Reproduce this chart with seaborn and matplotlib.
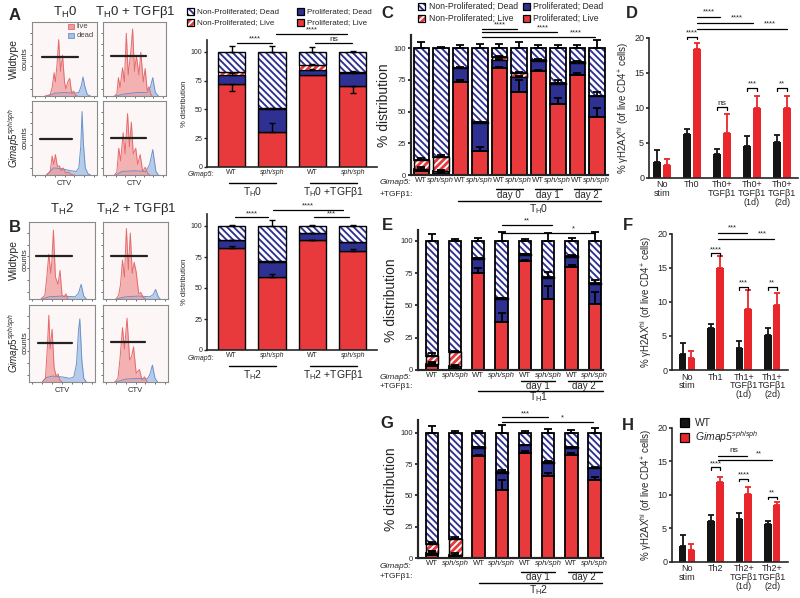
import numpy as np
import pandas as pd
import matplotlib
matplotlib.use('Agg')
import matplotlib.pyplot as plt
import matplotlib.transforms as mtrans
from matplotlib.patches import Rectangle
import seaborn as sns

# ---------------- data ----------------
# flow histograms (CTV), knots: x = fraction of axis, y = fraction of height
a1_live_x = [0.20, 0.28, 0.31, 0.34, 0.36, 0.385, 0.41, 0.44, 0.47, 0.50, 0.52, 0.55, 0.58, 0.61, 0.64, 0.67, 0.70]
a1_live_y = [0, 0.02, 0.12, 0.33, 0.20, 0.45, 0.80, 0.35, 0.58, 0.20, 0.10, 0.20, 0.25, 0.04, 0.07, 0.01, 0]
a1_dead_x = [0.25, 0.35, 0.50, 0.65, 0.72, 0.76, 0.785, 0.81, 0.85, 0.90]
a1_dead_y = [0, 0.04, 0.05, 0.04, 0.05, 0.15, 0.27, 0.15, 0.02, 0]
a1_gate = [0.16, 0.70, 0.56]

a2_live_x = [0.18, 0.22, 0.245, 0.27, 0.31, 0.34, 0.37, 0.40, 0.44, 0.47, 0.50, 0.53, 0.57, 0.60, 0.64, 0.67, 0.70, 0.73, 0.76, 0.78]
a2_live_y = [0, 0.03, 0.26, 0.12, 0.40, 0.20, 0.89, 0.30, 0.62, 0.95, 0.35, 0.57, 0.30, 0.62, 0.20, 0.39, 0.08, 0.13, 0.02, 0]
a2_dead_x = [0.20, 0.35, 0.55, 0.70, 0.75, 0.79, 0.83, 0.88]
a2_dead_y = [0, 0.03, 0.05, 0.05, 0.12, 0.26, 0.05, 0]
a2_gate = [0.12, 0.68, 0.57]

a3_live_x = [0.22, 0.28, 0.31, 0.335, 0.36, 0.39, 0.42, 0.45, 0.48, 0.52, 0.56, 0.60, 0.65]
a3_live_y = [0, 0.05, 0.27, 0.15, 0.29, 0.12, 0.13, 0.06, 0.10, 0.03, 0.04, 0.01, 0]
a3_dead_x = [0.22, 0.28, 0.33, 0.45, 0.60, 0.68, 0.72, 0.75, 0.77, 0.79, 0.82, 0.86, 0.90]
a3_dead_y = [0, 0.05, 0.10, 0.09, 0.06, 0.05, 0.10, 0.40, 0.90, 0.45, 0.10, 0.02, 0]
a3_gate = [0.12, 0.62, 0.51]

a4_live_x = [0.18, 0.22, 0.25, 0.28, 0.32, 0.35, 0.39, 0.42, 0.45, 0.48, 0.52, 0.55, 0.59, 0.63, 0.67, 0.71, 0.74]
a4_live_y = [0, 0.04, 0.38, 0.20, 0.60, 0.30, 0.87, 0.40, 0.75, 0.30, 0.38, 0.15, 0.29, 0.05, 0.11, 0.02, 0]
a4_dead_x = [0.20, 0.30, 0.50, 0.68, 0.74, 0.79, 0.84, 0.88]
a4_dead_y = [0, 0.05, 0.06, 0.05, 0.15, 0.36, 0.05, 0]
a4_gate = [0.12, 0.68, 0.53]

b1_live_x = [0.18, 0.24, 0.27, 0.30, 0.33, 0.345, 0.37, 0.40, 0.44, 0.47, 0.50, 0.53, 0.56, 0.59]
b1_live_y = [0, 0.05, 0.30, 0.61, 0.35, 0.50, 0.94, 0.30, 0.20, 0.39, 0.05, 0.03, 0.07, 0]
b1_dead_x = [0.20, 0.30, 0.50, 0.70, 0.75, 0.79, 0.83, 0.87]
b1_dead_y = [0, 0.03, 0.04, 0.03, 0.08, 0.20, 0.04, 0]
b1_gate = [0.10, 0.65, 0.58]

b2_live_x = [0.20, 0.24, 0.27, 0.30, 0.33, 0.36, 0.39, 0.42, 0.45, 0.48, 0.51, 0.55, 0.58, 0.62, 0.66]
b2_live_y = [0, 0.05, 0.20, 0.53, 0.30, 0.96, 0.40, 0.90, 0.35, 0.50, 0.37, 0.07, 0.09, 0.02, 0]
b2_dead_x = [0.20, 0.35, 0.55, 0.72, 0.77, 0.81, 0.85, 0.88]
b2_dead_y = [0, 0.03, 0.04, 0.03, 0.06, 0.13, 0.03, 0]
b2_gate = [0.12, 0.68, 0.59]

b3_live_x = [0.20, 0.25, 0.28, 0.30, 0.32, 0.35, 0.38, 0.41, 0.44, 0.47, 0.50]
b3_live_y = [0, 0.05, 0.50, 0.91, 0.45, 0.72, 0.20, 0.08, 0.11, 0.02, 0]
b3_dead_x = [0.20, 0.26, 0.35, 0.50, 0.62, 0.68, 0.72, 0.75, 0.77, 0.80, 0.83, 0.87]
b3_dead_y = [0, 0.06, 0.08, 0.07, 0.05, 0.07, 0.25, 0.70, 0.86, 0.30, 0.05, 0]
b3_gate = [0.13, 0.65, 0.53]

b4_live_x = [0.18, 0.23, 0.26, 0.30, 0.33, 0.37, 0.41, 0.44, 0.47, 0.51, 0.56, 0.60, 0.64, 0.68]
b4_live_y = [0, 0.05, 0.30, 0.74, 0.45, 0.87, 0.30, 0.35, 0.48, 0.12, 0.17, 0.03, 0.07, 0]
b4_dead_x = [0.20, 0.35, 0.55, 0.68, 0.72, 0.76, 0.80, 0.84]
b4_dead_y = [0, 0.04, 0.05, 0.04, 0.10, 0.23, 0.05, 0]
b4_gate = [0.12, 0.64, 0.55]

# stacked % distribution: proliferated live / proliferated dead / non-prolif live (rest = non-prolif dead)
genos4 = ['WT', 'sph/sph', 'WT', 'sph/sph']
a_pl = [72, 30, 80, 70]
a_pd = [8, 20, 4.3, 12]
a_nl = [2.5, 1.0, 4.4, 1.0]
a_pl_err = [-6, 8.5, 0, -6]
a_pd_err = [1.5, 1, 1, 1]
a_nl_err = [0, 0, 1, 0.5]
a_top_err = [5, 5.5, 4.6, 1]

b_pl = [82, 59, 88.5, 80]
b_pd = [6.4, 12, 5.5, 7]
b_nl = [0.5, 0.5, 0.5, 0.5]
b_pl_err = [1.6, 2.6, 0.5, 1.5]
b_pd_err = [0.5, 0.5, 0.5, 0.5]
b_nl_err = [0, 0, 0, 0]
b_top_err = [1, 5, 0.5, 1]

genos10 = ['WT', 'sph/sph'] * 5
c_pl = [3, 1, 73, 19, 84, 65, 82, 56, 79, 46]
c_pd = [2, 2, 11, 22, 6.5, 12, 8, 16, 9.5, 16]
c_nl = [7, 11, 0.5, 0.5, 2.5, 3, 0.5, 0.5, 0.5, 0.5]
c_pl_err = [1, 1, 2, 3, 1, 10, 1, 5, 1, 7]
c_pd_err = [1, 1, 1, 1, 1, 1, 1, 3, 1, 3]
c_nl_err = [1.5, 1.5, 0, 0, 0.5, 1, 0, 0, 0, 0]
c_top_err = [5, 1, 2, 3, 3, 5, 2, 2, 2, 6]

genos8 = ['WT', 'sph/sph'] * 4
e_pl = [3, 1, 75, 37, 84, 55, 80, 51]
e_pd = [1.5, 2, 11, 18, 5, 16.5, 7.6, 15.5]
e_nl = [6.5, 11, 0.5, 0.5, 1, 0.5, 0.5, 0.5]
e_pl_err = [3, 1, 4, 7, 1, 10, 1, 9]
e_pd_err = [1, 1, 1, 1, 0.5, 4, 1, 3]
e_nl_err = [2, 1, 0, 0, 0, 0, 0, 0]
e_top_err = [5, 1, 2, 7, 1, 6, 2, 7]

g_pl = [3, 1, 81, 54, 84, 65.5, 82, 62]
g_pd = [1.5, 2, 7, 14, 6, 10.5, 6, 9.6]
g_nl = [6.5, 12, 0.5, 0.5, 0.5, 0.5, 0.5, 0.5]
g_pl_err = [3, 1, 1, 8, 1, 2, 2, 3]
g_pd_err = [1, 1, 0.5, 2, 0.5, 1, 0.5, 1]
g_nl_err = [2, 2, 0, 0, 0, 0, 0, 0]
g_top_err = [5, 1, 1, 6, 1, 3, 2, 4]

# gamma-H2AX hi (% of live CD4+ cells)
d_groups = ['No\nstim', 'Th0', 'Th0+\nTGF\u03b21', 'Th0+\nTGF\u03b21\n(1d)', 'Th0+\nTGF\u03b21\n(2d)']
d_wt = [2.3, 6.2, 3.4, 4.6, 5.1]
d_wt_sd = [1.6, 0.7, 0.7, 1.3, 1.0]
d_sph = [1.8, 18.4, 6.4, 10.0, 9.9]
d_sph_sd = [0.9, 0.8, 2.7, 1.7, 1.7]

f_groups = ['No\nstim', 'Th1', 'Th1+\nTGF\u03b21\n(1d)', 'Th1+\nTGF\u03b21\n(2d)']
f_wt = [2.4, 6.2, 3.3, 5.2]
f_wt_sd = [1.5, 0.5, 0.9, 0.9]
f_sph = [1.8, 15.0, 8.9, 9.6]
f_sph_sd = [1.0, 1.8, 2.8, 1.7]

h_groups = ['No\nstim', 'Th2', 'Th2+\nTGF\u03b21\n(1d)', 'Th2+\nTGF\u03b21\n(2d)']
h_wt = [2.4, 6.1, 6.3, 5.7]
h_wt_sd = [1.6, 0.9, 1.0, 0.4]
h_sph = [1.8, 11.9, 10.1, 8.4]
h_sph_sd = [0.9, 0.8, 1.0, 0.5]

# ---------------- style ----------------
sns.set_theme(style='ticks')
plt.rcParams['font.family'] = ['Liberation Sans', 'DejaVu Sans']
plt.rcParams['mathtext.fontset'] = 'custom'
plt.rcParams['mathtext.rm'] = 'Liberation Sans'
plt.rcParams['mathtext.it'] = 'Liberation Sans:italic'
plt.rcParams['mathtext.bf'] = 'Liberation Sans:bold'
plt.rcParams['hatch.linewidth'] = 1.35

RED = '#e8393c'
NAVY = '#2e3192'
BLACK = '#141414'
BRED = '#e8262b'
LIVE_F, LIVE_E = '#f29a9b', '#e56a6c'
DEAD_F, DEAD_E = '#a5c0e6', '#6a92cc'
HATCH_B = '\\\\\\\\\\'
HATCH_R = '/////'

W, H = 800, 598
fig = plt.figure(figsize=(8, 5.98), dpi=100)


def add_ax(x0, y0, x1, y1):
    return fig.add_axes([x0 / W, 1 - y1 / H, (x1 - x0) / W, (y1 - y0) / H])


def ftext(x, y, s, **kw):
    kw.setdefault('ha', 'center')
    kw.setdefault('va', 'center')
    fig.text(x / W, 1 - y / H, s, **kw)


def fig_rect(x, y, w, h, face, hatch=None, hcol=None):
    if hatch:
        fig.add_artist(Rectangle((x / W, 1 - (y + h) / H), w / W, h / H, transform=fig.transFigure,
                                 facecolor=face, edgecolor=hcol, hatch=hatch, lw=0))
        face = 'none'
    fig.add_artist(Rectangle((x / W, 1 - (y + h) / H), w / W, h / H, transform=fig.transFigure,
                             facecolor=face, edgecolor='black', lw=0.9))


def under_line(ax, x0, x1, ypx, lw=1.0):
    tr = mtrans.blended_transform_factory(ax.transData, fig.transFigure)
    ax.plot([x0, x1], [1 - ypx / H] * 2, color='black', lw=lw, transform=tr, clip_on=False)


def under_text(ax, x, ypx, s, **kw):
    tr = mtrans.blended_transform_factory(ax.transData, fig.transFigure)
    ax.text(x, 1 - ypx / H, s, transform=tr, ha='center', va='center', **kw)


# ---------------- histograms ----------------
def hist_panel(box, lx, ly, dx, dy, gate, bottom=False):
    ax = add_ax(*box)
    ax.set_facecolor('#fcf7f6')
    ax.fill_between(dx, dy, color=DEAD_F, alpha=0.8, lw=0)
    ax.plot(dx, dy, color=DEAD_E, lw=0.7)
    ax.fill_between(lx, ly, color=LIVE_F, alpha=0.75, lw=0)
    ax.plot(lx, ly, color=LIVE_E, lw=0.7)
    ax.plot(gate[:2], [gate[2]] * 2, color='#222222', lw=1.6)
    ax.set_xlim(0, 1)
    ax.set_ylim(0, 1.05)
    ax.set_xticks(np.linspace(0.05, 0.95, 7))
    ax.set_yticks(np.linspace(0.1, 0.9, 6))
    ax.tick_params(length=1.5, width=0.6, labelbottom=False, labelleft=False, colors='#555555')
    for s in ax.spines.values():
        s.set_color('#8a8a8a')
        s.set_linewidth(0.8)
    if bottom:
        ax.set_xlabel('CTV', fontsize=5.5, labelpad=2)
    return ax


ax = hist_panel((32, 22, 97, 96), a1_live_x, a1_live_y, a1_dead_x, a1_dead_y, a1_gate)
ax.add_patch(Rectangle((0.55, 0.9), 0.1, 0.07, transform=ax.transAxes, facecolor=LIVE_F, edgecolor=LIVE_E, lw=0.6))
ax.add_patch(Rectangle((0.55, 0.78), 0.1, 0.07, transform=ax.transAxes, facecolor=DEAD_F, edgecolor=DEAD_E, lw=0.6))
ax.text(0.69, 0.935, 'live', transform=ax.transAxes, fontsize=5.5, va='center', color='#444444')
ax.text(0.69, 0.815, 'dead', transform=ax.transAxes, fontsize=5.5, va='center', color='#444444')
hist_panel((103, 22, 166, 96), a2_live_x, a2_live_y, a2_dead_x, a2_dead_y, a2_gate)
hist_panel((32, 101, 97, 175), a3_live_x, a3_live_y, a3_dead_x, a3_dead_y, a3_gate, bottom=True)
hist_panel((103, 101, 166, 175), a4_live_x, a4_live_y, a4_dead_x, a4_dead_y, a4_gate, bottom=True)

hist_panel((29, 222, 95, 299), b1_live_x, b1_live_y, b1_dead_x, b1_dead_y, b1_gate)
hist_panel((103, 222, 168, 299), b2_live_x, b2_live_y, b2_dead_x, b2_dead_y, b2_gate)
hist_panel((29, 305, 95, 382), b3_live_x, b3_live_y, b3_dead_x, b3_dead_y, b3_gate, bottom=True)
hist_panel((103, 305, 168, 382), b4_live_x, b4_live_y, b4_dead_x, b4_dead_y, b4_gate, bottom=True)

ftext(65, 12, 'T$_\\mathregular{H}$0', fontsize=9.5)
ftext(135, 12, 'T$_\\mathregular{H}$0 + TGF\u03b21', fontsize=9.5)
ftext(62, 209, 'T$_\\mathregular{H}$2', fontsize=9.5)
ftext(136, 209, 'T$_\\mathregular{H}$2 + TGF\u03b21', fontsize=9.5)
for yc in (59, 260):
    ftext(14, yc, 'Wildtype', fontsize=7.5, rotation=90)
    ftext(25, yc, 'counts', fontsize=5.5, rotation=90)
for yc in (138, 343):
    ftext(14, yc, '$\\mathit{Gimap5}^{\\mathit{sph/sph}}$', fontsize=7, rotation=90)
    ftext(25, yc, 'counts', fontsize=5.5, rotation=90)


# ---------------- stacked bars ----------------
def stacked(ax, genos, pl, pd_, nl, pl_e, pd_e, nl_e, top_e, width, lw, cap):
    n = len(pl)
    x = np.arange(n)
    pl, pd_, nl = np.array(pl, float), np.array(pd_, float), np.array(nl, float)
    b2 = pl + pd_
    b3 = b2 + nl
    nd = 100 - b3
    ax.bar(x, pl, width, color=RED, edgecolor='black', lw=lw)
    ax.bar(x, pd_, width, bottom=pl, color=NAVY, edgecolor='black', lw=lw)
    ax.bar(x, nl, width, bottom=b2, color=RED, edgecolor='white', hatch=HATCH_R, lw=0)
    ax.bar(x, nl, width, bottom=b2, fill=False, edgecolor='black', lw=lw * 0.8)
    ax.bar(x, nd, width, bottom=b3, color='white', edgecolor=NAVY, hatch=HATCH_B, lw=0)
    ax.bar(x, nd, width, bottom=b3, fill=False, edgecolor='black', lw=lw)
    for tops, errs in ((pl, pl_e), (b2, pd_e), (b3, nl_e), (np.full(n, 100.0), top_e)):
        errs = np.array(errs, float)
        keep = errs != 0
        lo = np.where(errs < 0, -errs, 0)[keep]
        hi = np.where(errs > 0, errs, 0)[keep]
        ax.errorbar(x[keep], tops[keep], yerr=[lo, hi], fmt='none', ecolor='black',
                    elinewidth=lw, capsize=cap, capthick=lw)
    ax.set_ylim(0, 110)
    ax.set_yticks([0, 25, 50, 75, 100])
    ax.set_xticks(x, genos)
    for t in ax.get_xticklabels():
        if t.get_text() != 'WT':
            t.set_fontstyle('italic')
    sns.despine(ax=ax)
    for s in ('left', 'bottom'):
        ax.spines[s].set_linewidth(lw * 1.2)
    ax.tick_params(axis='x', length=0, pad=1.5)
    ax.tick_params(axis='y', length=2.5, width=lw, pad=1)


def sig(ax, x0, x1, y, label, tx, fs=5.5):
    ax.plot([x0, x1], [y, y], color='black', lw=0.9, clip_on=False)
    ax.text(tx, y + 0.3, label, ha='center', va='bottom', fontsize=fs, clip_on=False)


# A bars
axA = add_ax(207, 40.5, 377, 167)
stacked(axA, genos4, a_pl, a_pd, a_nl, a_pl_err, a_pd_err, a_nl_err, a_top_err, 0.67, 1.0, 2.5)
axA.set_xlim(-0.61, 3.6)
axA.tick_params(axis='x', labelsize=5)
axA.tick_params(axis='y', labelsize=5)
axA.set_ylabel('% distribution', fontsize=5.5, labelpad=2)
sig(axA, 0.14, 1.0, 108, '****', 0.57)
sig(axA, 1.1, 2.86, 116, '****', 1.98)
sig(axA, 2.07, 2.98, 107.5, 'ns', 2.52, fs=6)
ftext(214, 175, 'Gimap5:', fontsize=5, fontstyle='italic', ha='right')
under_line(axA, -0.06, 1.1, 183)
under_line(axA, 1.94, 3.1, 183)
under_text(axA, 0.52, 192, 'T$_\\mathregular{H}$0', fontsize=7.5)
under_text(axA, 2.52, 192, 'T$_\\mathregular{H}$0 +TGF\u03b21', fontsize=7.5)

# B bars
axB = add_ax(207, 213.6, 377, 350)
stacked(axB, genos4, b_pl, b_pd, b_nl, b_pl_err, b_pd_err, b_nl_err, b_top_err, 0.67, 1.0, 2.5)
axB.set_xlim(-0.61, 3.6)
axB.tick_params(axis='x', labelsize=5)
axB.tick_params(axis='y', labelsize=5)
axB.set_ylabel('% distribution', fontsize=5.5, labelpad=2)
sig(axB, 0.09, 0.9, 107, '****', 0.5)
sig(axB, 1.02, 2.77, 113, '****', 1.9)
sig(axB, 2.03, 2.9, 107, '***', 2.47)
ftext(214, 359, 'Gimap5:', fontsize=5, fontstyle='italic', ha='right')
under_line(axB, -0.06, 1.1, 366)
under_line(axB, 1.94, 3.1, 366)
under_text(axB, 0.52, 375, 'T$_\\mathregular{H}$2', fontsize=7.5)
under_text(axB, 2.52, 375, 'T$_\\mathregular{H}$2 +TGF\u03b21', fontsize=7.5)

# legend for A/B
fig_rect(187, 8, 7, 7, 'white', HATCH_B, NAVY)
fig_rect(187, 19, 7, 7, RED, HATCH_R, 'white')
fig_rect(297, 8, 7, 7, NAVY)
fig_rect(297, 19, 7, 7, RED)
ftext(197, 11.5, 'Non-Proliferated; Dead', fontsize=5.8, ha='left')
ftext(197, 22.5, 'Non-Proliferated; Live', fontsize=5.8, ha='left')
ftext(307, 11.5, 'Proliferated; Dead', fontsize=5.8, ha='left')
ftext(307, 22.5, 'Proliferated; Live', fontsize=5.8, ha='left')

# C bars
axC = add_ax(411, 35.3, 608, 175)
stacked(axC, genos10, c_pl, c_pd, c_nl, c_pl_err, c_pd_err, c_nl_err, c_top_err, 0.8, 1.3, 3)
axC.set_xlim(-0.53, 9.57)
axC.tick_params(axis='x', labelsize=5.6)
axC.tick_params(axis='y', labelsize=5.5)
axC.set_ylabel('% distribution', fontsize=10, labelpad=2)
sig(axC, 3.1, 4.9, 115, '****', 4.04)
sig(axC, 3.1, 6.94, 112.4, '****', 6.24)
sig(axC, 3.1, 8.9, 108.9, '****', 7.9)
ftext(380, 183, 'Gimap5:', fontsize=6, fontstyle='italic', ha='left')
ftext(380, 195, '+TGF\u03b21:', fontsize=6, ha='left')
for i, lab in zip((4, 6, 8), ('day 0', 'day 1', 'day 2')):
    under_line(axC, i - 0.15, i + 1.2, 188.5)
    under_text(axC, i + 0.5, 195, lab, fontsize=7)
under_line(axC, 1.9, 9.2, 201)
under_text(axC, 6.0, 209, 'T$_\\mathregular{H}$0', fontsize=7.5)
# legend for C
fig_rect(418, 3, 7, 7, 'white', HATCH_B, NAVY)
fig_rect(418, 15, 7, 7, RED, HATCH_R, 'white')
fig_rect(523, 3, 7, 7, NAVY)
fig_rect(523, 15, 7, 7, RED)
ftext(429, 6.5, 'Non-Proliferated; Dead', fontsize=6.2, ha='left')
ftext(429, 18.5, 'Non-Proliferated; Live', fontsize=6.2, ha='left')
ftext(533, 6.5, 'Proliferated; Dead', fontsize=6.2, ha='left')
ftext(533, 18.5, 'Proliferated; Live', fontsize=6.2, ha='left')

# E bars
axE = add_ax(417.7, 230, 603, 370)
stacked(axE, genos8, e_pl, e_pd, e_nl, e_pl_err, e_pd_err, e_nl_err, e_top_err, 0.53, 1.3, 3)
axE.set_ylim(0, 108.3)
axE.set_xlim(-0.6, 7.35)
axE.tick_params(axis='x', labelsize=5.6)
axE.tick_params(axis='y', labelsize=5.5)
axE.set_ylabel('% distribution', fontsize=10, labelpad=2)
sig(axE, 3.0, 5.15, 112, '**', 4.08)
sig(axE, 3.0, 7.0, 106, '*', 6.1)
ftext(380, 377.5, 'Gimap5:', fontsize=6, fontstyle='italic', ha='left')
ftext(380, 386, '+TGF\u03b21:', fontsize=6, ha='left')
for i, lab in zip((4, 6), ('day 1', 'day 2')):
    under_line(axE, i - 0.15, i + 1.3, 381)
    under_text(axE, i + 0.55, 386, lab, fontsize=7)
under_line(axE, 2.0, 7.37, 390.5)
under_text(axE, 4.6, 397.5, 'T$_\\mathregular{H}$1', fontsize=7.5)

# G bars
axG = add_ax(418, 420, 602.7, 558.3)
stacked(axG, genos8, g_pl, g_pd, g_nl, g_pl_err, g_pd_err, g_nl_err, g_top_err, 0.53, 1.3, 3)
axG.set_xlim(-0.61, 7.35)
axG.tick_params(axis='x', labelsize=5.6)
axG.tick_params(axis='y', labelsize=5.5)
axG.set_ylabel('% distribution', fontsize=10, labelpad=2)
sig(axG, 3.0, 5.0, 112, '***', 4.0)
sig(axG, 3.0, 6.95, 108.5, '*', 5.6)
ftext(380, 566.5, 'Gimap5:', fontsize=6, fontstyle='italic', ha='left')
ftext(380, 577, '+TGF\u03b21:', fontsize=6, ha='left')
for i, lab in zip((4, 6), ('day 1', 'day 2')):
    under_line(axG, i - 0.15, i + 1.3, 571.5)
    under_text(axG, i + 0.55, 577, lab, fontsize=7)
under_line(axG, 2.0, 7.3, 582.5)
under_text(axG, 4.6, 590, 'T$_\\mathregular{H}$2', fontsize=7.5)


# ---------------- gamma H2AX grouped bars ----------------
def grouped(ax, groups, wt, wt_sd, sph, sph_sd):
    n = len(groups)
    df = pd.DataFrame({'grp': groups * 2, 'geno': ['WT'] * n + ['sph'] * n, 'val': wt + sph})
    sns.barplot(data=df, x='grp', y='val', hue='geno', palette=[BLACK, BRED], width=0.62, gap=0.14,
                errorbar=None, legend=False, saturation=1, linewidth=0, ax=ax)
    centers = []
    for cont, sd, col in zip(ax.containers, (wt_sd, sph_sd), (BLACK, BRED)):
        xs = np.array([p.get_x() + p.get_width() / 2 for p in cont])
        hs = np.array([p.get_height() for p in cont])
        ax.errorbar(xs, hs, yerr=[np.zeros(n), np.array(sd)], fmt='none', ecolor=col,
                    elinewidth=1.3, capsize=2.3, capthick=1.3)
        centers.append(xs)
    ax.set_ylim(0, 20)
    ax.set_yticks([0, 5, 10, 15, 20])
    ax.set_xlabel('')
    ax.set_ylabel('% \u03b3H2AX$^{\\mathregular{hi}}$ (of live CD4$^{+}$ cells)', fontsize=7, labelpad=2)
    sns.despine(ax=ax)
    for s in ('left', 'bottom'):
        ax.spines[s].set_linewidth(1.2)
    ax.tick_params(axis='y', labelsize=6.5, length=2.5, width=1.2, pad=1)
    ax.tick_params(axis='x', labelsize=6.5, length=0, pad=2)
    for t in ax.get_xticklabels():
        t.set_linespacing(0.95)
        t.set_verticalalignment('top')
    return centers


def bracket(ax, x0, x1, y, label, fs=5.5):
    ax.plot([x0, x0, x1, x1], [y - 0.35, y, y, y - 0.35], color='black', lw=0.9, clip_on=False)
    ax.text((x0 + x1) / 2, y + 0.05, label, ha='center', va='bottom', fontsize=fs, clip_on=False)


axD = add_ax(649, 37.7, 798, 177.7)
cd = grouped(axD, d_groups, d_wt, d_wt_sd, d_sph, d_sph_sd)
axD.set_xlim(-0.43, 4.53)
bracket(axD, cd[0][1], cd[1][1], 20.1, '****')
bracket(axD, cd[0][2], cd[1][2], 10.05, 'ns', fs=6)
bracket(axD, cd[0][3], cd[1][3], 12.8, '***')
bracket(axD, cd[0][4], cd[1][4], 12.8, '**')
sig(axD, 1.16, 1.95, 22.9, '****', 1.56)
sig(axD, 1.16, 3.03, 22.05, '****', 2.5)
sig(axD, 1.16, 4.16, 21.2, '****', 3.6)

axF = add_ax(672, 233.7, 788, 370)
cf = grouped(axF, f_groups, f_wt, f_wt_sd, f_sph, f_sph_sd)
axF.set_xlim(-0.53, 3.56)
bracket(axF, cf[0][1], cf[1][1], 17.1, '****')
bracket(axF, cf[0][2], cf[1][2], 12.15, '***')
bracket(axF, cf[0][3], cf[1][3], 12.15, '**')
sig(axF, 1.1, 2.13, 20.05, '***', 1.6)
sig(axF, 1.1, 3.05, 19.2, '***', 2.65)

axH = add_ax(672, 427.7, 788, 561.7)
ch = grouped(axH, h_groups, h_wt, h_wt_sd, h_sph, h_sph_sd)
axH.set_xlim(-0.53, 3.56)
bracket(axH, ch[0][1], ch[1][1], 14.1, '****')
bracket(axH, ch[0][2], ch[1][2], 12.35, '****')
bracket(axH, ch[0][3], ch[1][3], 9.7, '**')
sig(axH, 1.1, 2.13, 15.8, 'ns', 1.65, fs=6)
sig(axH, 1.1, 3.0, 15.2, '**', 2.55)
fig_rect(680, 418, 9, 9, BLACK)
fig_rect(680, 433, 9, 9, BRED)
ftext(695, 422.5, 'WT', fontsize=7.5, ha='left')
ftext(695, 437.5, 'Gimap5$^{sph/sph}$', fontsize=7.5, ha='left', fontstyle='italic')

# panel letters
for lab, x, y in (('A', 15, 15), ('B', 15, 228), ('C', 387, 13), ('D', 632, 13),
                  ('E', 387, 225), ('F', 628, 225), ('G', 387, 423), ('H', 628, 426)):
    ftext(x, y, lab, fontsize=12, fontweight='bold')

fig.savefig('out.png', dpi=100, facecolor='white')
